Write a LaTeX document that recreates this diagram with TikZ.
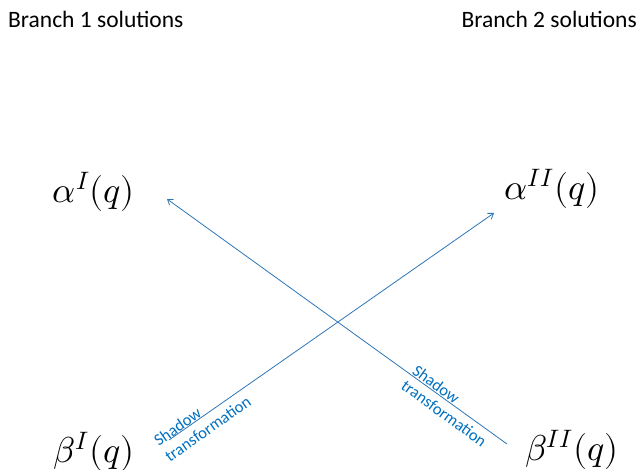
\documentclass[tikz,border=0pt]{standalone}
\usepackage{fontspec}
\usepackage{unicode-math}
\setmainfont{Carlito}
\setmathfont{Latin Modern Math}
\usetikzlibrary{arrows.meta}
\definecolor{lineblue}{RGB}{46,117,182}
\definecolor{textblue}{RGB}{0,112,192}
\begin{document}
\begin{tikzpicture}[x=1pt,y=-1pt,
  head/.style={font=\fontsize{23.5}{27}\selectfont, anchor=west, inner sep=0pt},
  mathlbl/.style={font=\fontsize{36}{42}\selectfont, inner sep=0pt},
  conn/.style={draw=lineblue, line width=0.8pt, -{Straight Barb[length=5pt,width=7pt]}},
  shadowlbl/.style={font=\fontsize{16.5}{19}\selectfont, text=textblue, align=left, inner sep=0pt, anchor=west}]
\useasboundingbox (0,0) rectangle (638,470);
\node[head] (b1) at (8,19) {Branch 1 solutions};
\node[head, anchor=east] (b2) at (637,19) {Branch 2 solutions};
\node[mathlbl] (a1) at (94,192) {$\alpha^{I}(q)$};
\node[mathlbl] (a2) at (552,189) {$\alpha^{II}(q)$};
\node[mathlbl] (bb1) at (94,452) {$\beta^{I}(q)$};
\node[mathlbl] (bb2) at (572,450) {$\beta^{II}(q)$};
\coordinate (s1) at (169,440);
\coordinate (e1) at (494,213);
\coordinate (s2) at (507,444);
\coordinate (e2) at (167,199);
\draw[conn] (s1) -- (e1);
\draw[conn] (s2) -- (e2);
\node[shadowlbl, rotate=35] (l1) at (161,450) {Shadow\\transformation};
\node[shadowlbl, rotate=-36] (l2) at (409,376) {Shadow\\transformation};
\end{tikzpicture}
\end{document}
